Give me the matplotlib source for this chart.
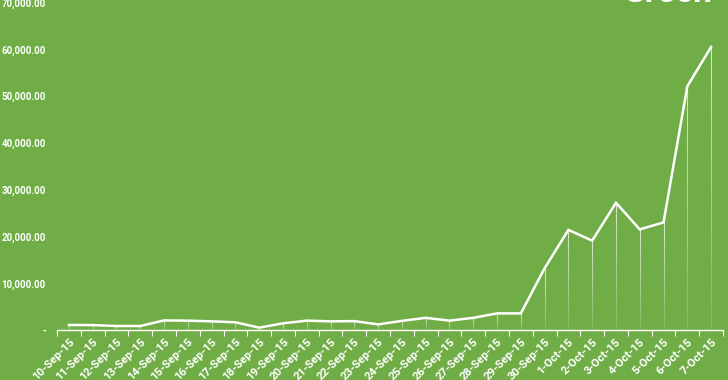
import matplotlib.pyplot as plt
import numpy as np
from matplotlib.collections import LineCollection

dates = ['10-Sep-15', '11-Sep-15', '12-Sep-15', '13-Sep-15', '14-Sep-15', '15-Sep-15',
         '16-Sep-15', '17-Sep-15', '18-Sep-15', '19-Sep-15', '20-Sep-15', '21-Sep-15',
         '22-Sep-15', '23-Sep-15', '24-Sep-15', '25-Sep-15', '26-Sep-15', '27-Sep-15',
         '28-Sep-15', '29-Sep-15', '30-Sep-15', '1-Oct-15', '2-Oct-15', '3-Oct-15',
         '4-Oct-15', '5-Oct-15', '6-Oct-15', '7-Oct-15']
values = [1070, 1050, 850, 850, 2050, 2000, 1850, 1650, 500, 1430, 2000, 1850,
          1900, 1200, 1950, 2600, 2000, 2600, 3550, 3550, 13200, 21400, 19100, 27200,
          21500, 23000, 52100, 60500]
yticks = [0, 10000, 20000, 30000, 40000, 50000, 60000, 70000]
ytick_labels = ['-', '10,000.00', '20,000.00', '30,000.00', '40,000.00',
                '50,000.00', '60,000.00', '70,000.00']

green = '#70AD47'
font = 'Roboto'

fig = plt.figure(figsize=(7.28, 3.8), dpi=100, facecolor=green)
ax = fig.add_axes([57/728, 50/380, 666/728, 327.5/380])
ax.set_facecolor(green)

x = np.arange(len(values))

# fading drop lines
segs = []
cols = []
n = 12
for xi, v in zip(x, values):
    for k in range(n):
        y0 = v * k / n
        y1 = v * (k + 1) / n
        segs.append([(xi, y0), (xi, y1)])
        cols.append((1, 1, 1, 0.1 + 0.6 * (k + 1) / n))
ax.add_collection(LineCollection(segs, colors=cols, linewidths=0.8))

ax.plot(x, values, color='white', lw=1.8, solid_joinstyle='miter')

ax.set_xlim(-0.5, len(values) - 0.5)
ax.set_ylim(0, 70000)

for s in ['left', 'right', 'top']:
    ax.spines[s].set_visible(False)
ax.spines['bottom'].set_color('white')
ax.spines['bottom'].set_linewidth(1.0)

ax.set_yticks(yticks)
ax.set_yticklabels(ytick_labels, color='white', fontsize=7, fontweight='bold', family=font)
ax.tick_params(axis='y', length=0, pad=8)

ax.set_xticks(x)
ax.set_xticklabels(dates, rotation=45, ha='right', rotation_mode='anchor',
                   color='white', fontsize=8.2, fontweight='bold', family=font)
ax.tick_params(axis='x', length=0, pad=5)
ax.set_xticks(np.arange(-0.5, len(values)), minor=True)
ax.tick_params(axis='x', which='minor', length=4, width=0.8, color='white', direction='out')

fig.text(667/728, 377.5/380, 'Green', color='white', fontsize=24, fontweight='bold',
         family=font, ha='center', va='baseline')

fig.savefig('out.png', dpi=100, facecolor=green)
